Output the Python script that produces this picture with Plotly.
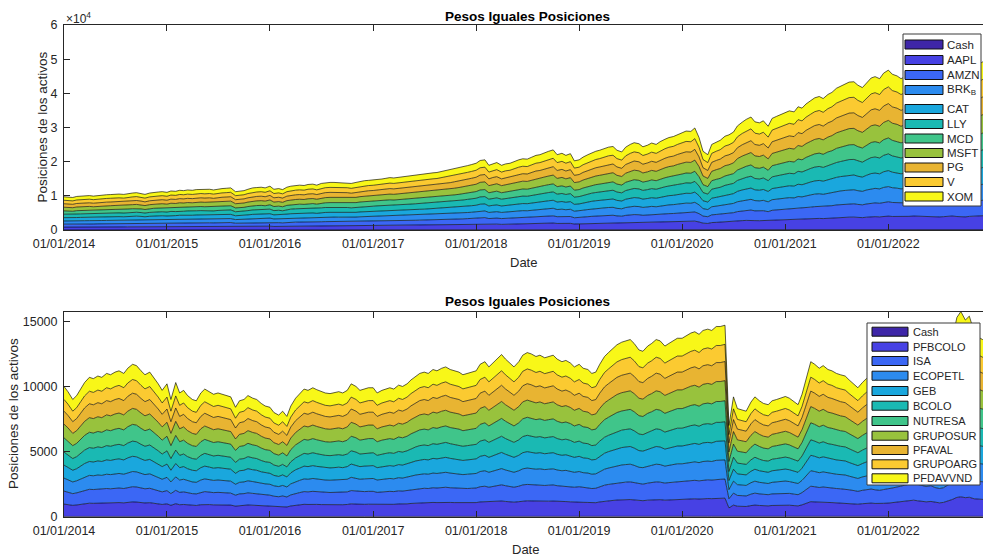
import pandas as pd
import plotly.graph_objects as go

# Semi-monthly sampling dates (1st and 15th of each month)
dates = pd.date_range("2014-01-01", "2022-12-15", freq="SMS")

# ---- US portfolio: total position value, one row per year ----
us_total = [
    9700, 9600, 9500, 9800, 9900, 10000, 10050, 9900, 10100, 10200, 10300, 10350,
    10450, 10500, 10400, 10650, 10800, 10900, 10700, 10400, 10800, 11000, 11100, 11200,
    11000, 11400, 11300, 11600, 11500, 11700, 11600, 11800, 11900, 11800, 11900, 11700,
    12000, 12100, 12200, 12300, 11200, 11300, 11500, 11900, 12300, 12400, 12500, 12300,
    12800, 11900, 12100, 11800, 12500, 12800, 13000, 13100, 13000, 13300, 13400, 13100,
    13600, 13800, 13900, 13900, 13800, 13700, 13800, 13600, 13900, 14200, 14400, 14500,
    14600, 14800, 14900, 15100, 15300, 15200, 15400, 15600, 15800, 15900, 16100, 16300,
    16400, 16600, 16700, 16800, 17100, 17300, 17500, 17800, 18100, 18400, 18800, 19100,
    19500, 20300, 20500, 18900, 19400, 19700, 18900, 19300, 19500, 20000, 20500, 20800,
    20700, 21200, 21800, 22000, 22600, 23000, 23400, 22000, 22400, 21800, 22300, 20200,
    20500, 21300, 22000, 22600, 23000, 23300, 23800, 24200, 24400, 23300, 22800, 24200,
    25000, 25500, 25200, 24300, 24800, 25400, 25000, 25800, 26500, 27000, 27300, 27900,
    28400, 28900, 28800, 29800, 27000, 23000, 22000, 25000, 25700, 26200, 27400, 27800,
    28600, 30400, 31500, 32300, 33000, 31600, 31300, 31900, 30300, 32600, 33200, 33700,
    34100, 34800, 34500, 36000, 35600, 36800, 37800, 38600, 39000, 38400, 39600, 40200,
    41400, 42000, 42600, 43200, 43300, 42300, 41600, 43000, 44400, 44800, 44200, 45800,
    46700, 45500, 45000, 44200, 44800, 45900, 47000, 46400, 44600, 43900, 44800, 42800,
    43900, 44800, 46200, 47100, 45400, 44300, 44000, 45800, 47300, 48300, 49100, 48600,
]
us_names = ["Cash", "AAPL", "AMZN", "BRK<sub>B</sub>", "CAT", "LLY",
            "MCD", "MSFT", "PG", "V", "XOM"]
us_weights = [0.002, 0.085, 0.090, 0.095, 0.100, 0.105,
              0.100, 0.110, 0.105, 0.105, 0.105]

# ---- Colombian portfolio: total position value, one row per year ----
co_total = [
    10000, 9600, 9000, 9300, 9800, 10300, 10700, 10600, 10800, 10700, 11000, 10900,
    11100, 11200, 11000, 11400, 11700, 11600, 11200, 10900, 11100, 10700, 10200, 9700,
    10200, 9000, 10300, 9500, 9700, 9300, 9000, 8900, 9500, 9800, 9600, 9400,
    9500, 9400, 9300, 9200, 8400, 8900, 9000, 9300, 9100, 9000, 8700, 8500,
    8400, 8000, 7800, 8100, 7700, 8500, 9100, 9400, 9800, 9700, 9900, 9750,
    9600, 9500, 9450, 9500, 9600, 9500, 9700, 10200, 10000, 9700, 9800, 9900,
    9900, 9500, 9700, 9800, 9900, 9800, 10100, 10000, 10200, 10500, 10800, 11000,
    11100, 11000, 11300, 11200, 11400, 11500, 11300, 11200, 11100, 10900, 11000, 11100,
    11200, 11700, 11900, 11500, 11800, 12100, 12450, 12100, 11800, 11500, 11900, 12400,
    12600, 12500, 12300, 12400, 12200, 12300, 12400, 12100, 11900, 12000, 11800, 11500,
    11700, 11400, 11300, 11000, 11100, 11700, 12300, 12600, 12900, 13200, 13400, 13500,
    13600, 13300, 12800, 12700, 13100, 13300, 13600, 13500, 13100, 13300, 13500, 13700,
    13700, 13900, 14100, 14200, 14000, 14300, 14400, 14300, 14600, 14600, 14700, 7000,
    9200, 8300, 8200, 8100, 8800, 9200, 8900, 8700, 8600, 8900, 9000, 9100,
    9230, 9100, 8800, 8600, 9400, 10500, 11900, 11700, 11400, 11600, 11300, 11200,
    11000, 10900, 10800, 10500, 10200, 9900, 10300, 10600, 10800, 10500, 10300, 10600,
    10800, 11200, 11600, 12000, 12300, 12700, 13100, 12600, 12200, 11800, 12100, 11400,
    11000, 11300, 12400, 13600, 15300, 15750, 15100, 15400, 14200, 13800, 13600, 13500,
]
co_names = ["Cash", "PFBCOLO", "ISA", "ECOPETL", "GEB", "BCOLO",
            "NUTRESA", "GRUPOSUR", "PFAVAL", "GRUPOARG", "PFDAVVND"]
co_weights = [0.002, 0.095, 0.100, 0.100, 0.100, 0.100,
              0.110, 0.105, 0.100, 0.090, 0.100]

year_ticks = pd.date_range("2014-01-01", "2022-01-01", freq="YS")

# parula-style palette shared by both stacks
colors = ["#3e26a8", "#4741e4", "#3b67f5", "#2c8bef", "#1aa7dd", "#1ab9b3",
          "#40c58a", "#98c23d", "#e8b432", "#fbca31", "#f8f718"]
edge = "rgba(0,0,0,0.9)"
ink = "#262626"
font_family = "Liberation Sans, Arial, sans-serif"

W, H = 983, 560


def px(x):
    return x / W


def py(y):
    return 1 - y / H


fig = go.Figure()

for name, w, c in zip(us_names, us_weights, colors):
    fig.add_trace(go.Scatter(
        x=dates, y=[t * w for t in us_total], name=name, stackgroup="us",
        mode="lines", line=dict(color=edge, width=0.7), fillcolor=c,
        xaxis="x", yaxis="y", showlegend=False, hoverinfo="skip"))

for name, w, c in zip(co_names, co_weights, colors):
    fig.add_trace(go.Scatter(
        x=dates, y=[t * w for t in co_total], name=name, stackgroup="co",
        mode="lines", line=dict(color=edge, width=0.7), fillcolor=c,
        xaxis="x2", yaxis="y2", showlegend=False, hoverinfo="skip"))

x_common = dict(
    type="date", range=["2014-01-01", "2022-12-02 12:00"],
    tickvals=year_ticks, tickformat="%d/%m/%Y",
    ticks="inside", ticklen=6, tickcolor=ink, tickwidth=1,
    showline=True, linecolor=ink, linewidth=1, mirror="ticks",
    showgrid=False, zeroline=False, automargin=False,
    tickfont=dict(size=12.5, color=ink, family=font_family),
    ticklabelstandoff=2,
    domain=[px(64), 1.0],
)
y_common = dict(
    ticks="inside", ticklen=6, tickcolor=ink, tickwidth=1,
    showline=True, linecolor=ink, linewidth=1, mirror=False,
    showgrid=False, zeroline=False, automargin=False,
    tickfont=dict(size=12.5, color=ink, family=font_family),
    ticklabelstandoff=3,
)

fig.update_layout(
    width=W, height=H, margin=dict(l=0, r=0, t=0, b=0),
    paper_bgcolor="white", plot_bgcolor="white", showlegend=False,
    font=dict(family=font_family, size=12, color=ink),
    xaxis=dict(**x_common, anchor="y"),
    xaxis2=dict(**x_common, anchor="y2"),
    yaxis=dict(**y_common, anchor="x", domain=[py(230), py(25)],
               range=[0, 60000], tickvals=[0, 10000, 20000, 30000, 40000, 50000, 60000],
               ticktext=["0", "1", "2", "3", "4", "5", "6"]),
    yaxis2=dict(**y_common, anchor="x2", domain=[py(516.7), py(311.7)],
                range=[0, 15770], tickvals=[0, 5000, 10000, 15000],
                ticktext=["0", "5000", "10000", "15000"]),
)

annotations = []
shapes = []


def text(x, y, s, size, bold=False, xanchor="center", angle=0):
    annotations.append(dict(
        xref="paper", yref="paper", x=px(x), y=py(y), text=f"<b>{s}</b>" if bold else s,
        showarrow=False, xanchor=xanchor, yanchor="middle", textangle=angle,
        font=dict(size=size, color="#000000" if bold else ink, family=font_family)))


# titles, axis labels, exponent
title = "Pesos Iguales Posiciones"
text(527, 16, title, 13.5, bold=True)
text(527, 301.5, title, 13.5, bold=True)
text(523, 262, "Date", 13)
text(525, 549, "Date", 13)
text(42, 127.5, "Posiciones de los activos", 13.5, angle=-90)
text(13, 414, "Posiciones de los activos", 13.5, angle=-90)
text(64, 18, "×10<sup>4</sup>", 12, xanchor="left")


def legend(box, sw_x, txt_x, centers, names, sw_h=9, size=11):
    x0, y0, x1, y1 = box
    shapes.append(dict(type="rect", xref="paper", yref="paper",
                       x0=px(x0), x1=px(x1), y0=py(y0), y1=py(y1),
                       fillcolor="white", line=dict(color="#3a3a3a", width=1), layer="above"))
    for cy, name, c in zip(centers, names, colors):
        shapes.append(dict(type="rect", xref="paper", yref="paper",
                           x0=px(sw_x[0]), x1=px(sw_x[1]),
                           y0=py(cy - sw_h / 2), y1=py(cy + sw_h / 2),
                           fillcolor=c, line=dict(color="#111111", width=1), layer="above"))
        text(txt_x, cy, name, size, xanchor="left")


legend((903, 34, 981, 206), (905, 943), 945,
       [44.5, 60, 75, 90, 109, 124, 138.5, 153, 167.5, 182, 196.5], us_names, size=11.5)
legend((867, 323, 980, 485), (872, 908), 910.5,
       [331.7, 346.7, 361, 375.7, 391, 405.7, 421, 435.7, 450, 464.3, 478.3], co_names, size=11)

fig.update_layout(annotations=annotations, shapes=shapes)

fig.write_html("out.html")
